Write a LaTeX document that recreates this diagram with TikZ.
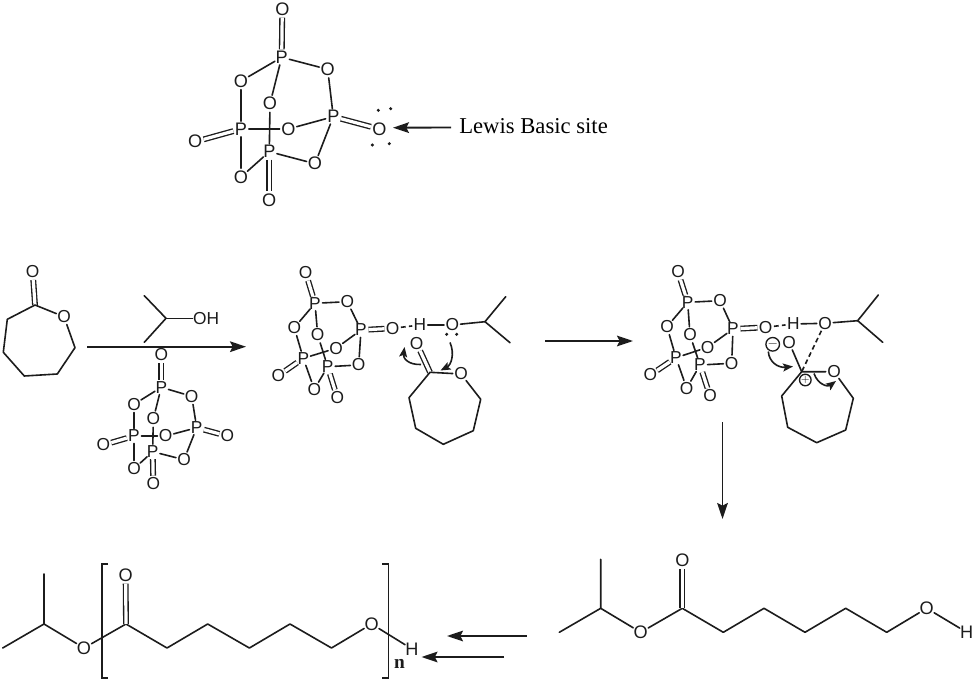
\documentclass[tikz,border=0pt]{standalone}
\usepackage{fontspec}
\setmainfont{Liberation Serif}
\newfontfamily\chemfont{Liberation Sans}
\usetikzlibrary{arrows.meta}
\definecolor{ink}{HTML}{1C1C1C}
\tikzset{
  atom/.style={circle,inner sep=0pt,outer sep=-0.6pt,font=\chemfont\fontsize{13}{13}\selectfont,text=ink},
  bigatom/.style={atom,font=\chemfont\fontsize{13.6}{13.6}\selectfont},
  bond/.style={draw=ink,line width=1.2pt,line join=round,line cap=round},
  dbl/.style={draw=ink,line width=1pt,double=white,double distance=2.4pt},
  dashbond/.style={draw=ink,line width=1.2pt,dash pattern=on 3.6pt off 2.4pt},
  rxn/.style={draw=ink,line width=1.4pt,-{Stealth[length=12pt,width=8pt,inset=2pt]}},
  curly/.style={draw=ink,line width=1.2pt,-{Stealth[length=7.5pt,width=6pt,inset=1.5pt]}},
  lp/.style={circle,fill=ink,inner sep=0pt,minimum size=2.6pt},
  charge/.style={circle,draw=ink,line width=1pt,inner sep=0pt,text=ink},
  bracket/.style={draw=ink,line width=1.4pt,line join=miter},
  label/.style={font=\fontsize{17}{17}\selectfont,text=black,inner sep=0pt}
}
\newcommand{\cagebonds}[1]{%
  \draw[dbl] (#1Pt) -- (#1Ot);
  \draw[dbl] (#1Pr) -- (#1Or);
  \draw[dbl] (#1Pl) -- (#1Ol);
  \draw[dbl] (#1Pb) -- (#1Ob);
  \draw[bond] (#1Pt) -- (#1Oa);
  \draw[bond] (#1Pt) -- (#1Oc);
  \draw[bond] (#1Pt) -- (#1Od);
  \draw[bond] (#1Od) -- (#1Pr);
  \draw[bond] (#1Pr) -- (#1Om);
  \draw[bond] (#1Pr) -- (#1Oe);
  \draw[bond] (#1Oa) -- (#1Pl);
  \draw[bond] (#1Pl) -- (#1Om);
  \draw[bond] (#1Pl) -- (#1Of);
  \draw[bond] (#1Oc) -- (#1Pb);
  \draw[bond] (#1Pb) -- (#1Oe);
  \draw[bond] (#1Pb) -- (#1Of);
}
\begin{document}
\begin{tikzpicture}[x=0.75pt,y=-0.75pt]
\useasboundingbox (0,0) rectangle (975,681);

% ---- top cage
\foreach \n/\t/\x/\y in {Ot/O/282.3/9,Pt/P/281.7/57.3,Oa/O/241/81,Od/O/327.7/69.3,Oc/O/270/103.7,Pr/P/333.3/116.7,Or/O/379.3/129,Pl/P/241/129,Om/O/288.3/129,Ol/O/195.3/141.7,Pb/P/269.3/151.7,Oe/O/315/163.7,Of/O/241/177,Ob/O/269.3/200}
  \node[bigatom] (A\n) at (\x,\y) {\t};
\cagebonds{A}
\foreach \n/\x/\y in {a/378.3/110.3,b/390.7/108.7,c/372.3/145,d/389.3/143.7}
  \node[lp] (lpA\n) at (\x,\y) {};
\node[label,anchor=west] (lewis) at (459,126) {Lewis Basic site};
\draw[rxn] (lewis.west) ++(-8,1.5) coordinate (lewtail) (lewtail) -- (393,127.7) coordinate (lewtip);

% ---- lactone, reagents
\foreach \n/\t/\x/\y in {exo/O/32.7/271.7,ro/O/64/316.7}
  \node[atom] (L\n) at (\x,\y) {\t};
\foreach \n/\x/\y in {c/35/305,a/75/347.7,b/57.3/374,d/24.3/376,e/3.3/352.3,f/7.3/319.3}
  \coordinate (L\n) at (\x,\y);
\draw[dbl] (Lc) -- (Lexo);
\draw[bond] (Lro) -- (Lc) -- (Lf) -- (Le) -- (Ld) -- (Lb) -- (La) -- (Lro);

\coordinate (Ia) at (144.3,295.7);
\coordinate (Ib) at (166,318.3);
\coordinate (Ic) at (144.3,342.3);
\node[atom,anchor=west] (Ioh) at (192.5,318.3) {OH};
\draw[bond] (Ia) -- (Ib) -- (Ic);
\draw[bond] (Ib) -- (Ioh);
\coordinate (R1a) at (87,346.7);
\coordinate (R1b) at (246,346.7);
\draw[rxn] (R1a) -- (R1b);

\foreach \n/\t/\x/\y in {Ot/O/161.3/355,Pt/P/161.3/387.3,Oa/O/134/404.3,Od/O/191.7/396.3,Oc/O/153.3/419,Pr/P/196.7/427.7,Or/O/227.3/436,Pl/P/134/436,Om/O/165.7/436,Ol/O/103.3/445,Pb/P/152.7/451.7,Oe/O/184/459.7,Of/O/134/468.7,Ob/O/153.3/484}
  \node[atom] (B\n) at (\x,\y) {\t};
\cagebonds{B}

% ---- middle complex
\foreach \n/\t/\x/\y in {Ot/O/305.7/272.7,Pt/P/315/303.3,Oa/O/294.3/327.7,Od/O/347.3/301.7,Oc/O/317.7/335,Pr/P/361/330,Or/O/392.7/328.3,Pl/P/303.3/358.3,Om/O/336/348.3,Ol/O/278.3/375.7,Pb/P/327.7/366.7,Oe/O/358.7/365,Of/O/314.3/389.3,Ob/O/337.3/397.7}
  \node[atom] (C\n) at (\x,\y) {\t};
\cagebonds{C}
\node[atom] (CH) at (420,325) {H};
\node[atom] (CO) at (452.3,325) {O};
\coordinate (Cch) at (485,321.7);
\coordinate (Cma) at (505.7,296.7);
\coordinate (Cmb) at (510,342.7);
\draw[dashbond] (COr) -- (CH);
\draw[bond] (CH) -- (CO);
\draw[bond] (CO) -- (Cch) -- (Cma);
\draw[bond] (Cch) -- (Cmb);
\node[lp] (Clpa) at (446.7,334.3) {};
\node[lp] (Clpb) at (456.7,334.3) {};
\node[atom] (Rexo) at (416.7,343.3) {O};
\node[atom] (Rro) at (461,374) {O};
\coordinate (Rc) at (430,372.3);
\coordinate (Ra) at (480.7,399.3);
\coordinate (Rb) at (473.3,430.7);
\coordinate (Rd) at (443.3,444.3);
\coordinate (Re) at (415.7,428.3);
\coordinate (Rf) at (409,397.7);
\draw[dbl] (Rc) -- (Rexo);
\draw[bond] (Rro) -- (Rc) -- (Rf) -- (Re) -- (Rd) -- (Rb) -- (Ra) -- (Rro);
\coordinate (Cca) at (421,364.5);
\coordinate (Ccb) at (404.5,347);
\draw[curly] (Cca) .. controls (408,365) and (403,358) .. (Ccb);
\coordinate (Ccc) at (450,342.5);
\coordinate (Ccd) at (440.5,370.5);
\draw[curly] (Ccc) .. controls (455,354) and (451,365) .. (Ccd);

\coordinate (R2a) at (545,341);
\coordinate (R2b) at (633,341);
\draw[rxn] (R2a) -- (R2b);

% ---- right complex
\foreach \n/\t/\x/\y in {Ot/O/678/272,Pt/P/687.7/302.3,Oa/O/667/326.7,Od/O/720/300.7,Oc/O/690/335,Pr/P/733/329,Or/O/765.7/327.3,Pl/P/676/357.7,Om/O/707.7/347.3,Ol/O/650.3/375,Pb/P/700/365,Oe/O/731.7/363.3,Of/O/686.7/388.3,Ob/O/710/396}
  \node[atom] (D\n) at (\x,\y) {\t};
\cagebonds{D}
\node[atom] (DH) at (793.3,324) {H};
\node[atom] (DO) at (825,323.3) {O};
\coordinate (Dch) at (857.7,320.7);
\coordinate (Dma) at (878.3,295);
\coordinate (Dmb) at (882.7,342.3);
\draw[dashbond] (DOr) -- (DH);
\draw[bond] (DH) -- (DO);
\draw[bond] (DO) -- (Dch) -- (Dma);
\draw[bond] (Dch) -- (Dmb);
\node[atom] (Sexo) at (789,342.3) {O};
\node[atom] (Sro) at (834,371.7) {O};
\coordinate (Sc) at (801.7,371.7);
\coordinate (Sa) at (853.3,398.3);
\coordinate (Sb) at (845.7,430);
\coordinate (Sd) at (816.7,442.7);
\coordinate (Se) at (787.7,427.3);
\coordinate (Sf) at (781.7,396);
\draw[bond] (Sexo) -- (Sc);
\draw[bond] (Sro) -- (Sc) -- (Sf) -- (Se) -- (Sd) -- (Sb) -- (Sa) -- (Sro);
\draw[dashbond] (DO) -- (Sc);
\node[charge,minimum size=9.5pt,font=\fontsize{10}{10}\selectfont] (Dminus) at (772.7,344.3) {$\mathbf{-}$};
\node[charge,minimum size=8pt,font=\fontsize{8.5}{8.5}\selectfont] (Dplus) at (805.3,380) {$\mathbf{+}$};
\coordinate (Dca) at (768.3,351.5);
\coordinate (Dcb) at (793,366.5);
\draw[curly] (Dca) .. controls (769,362) and (778,368) .. (Dcb);
\coordinate (Dcc) at (814,373.5);
\coordinate (Dcd) at (836,381);
\draw[curly] (Dcc) .. controls (818,385) and (828,387) .. (Dcd);

\coordinate (R3a) at (722.5,422);
\coordinate (R3b) at (722.5,519);
\draw[rxn] (R3a) -- (R3b);

% ---- bottom right monomer
\foreach \n/\x/\y in {a/559.3/632.3,b/600.7/608.3,t/600.7/559.3,c/682.3/608.3,d/723.3/632.3,e/764/608.3,f/805/632.3,g/845.7/608.3,h/886.7/632.3}
  \coordinate (M\n) at (\x,\y);
\node[bigatom] (MO) at (640.7,632.3) {O};
\node[bigatom] (Mexo) at (682.3,560) {O};
\node[bigatom] (MOH) at (926.7,608.3) {O};
\node[bigatom] (MH) at (966.7,632.3) {H};
\draw[bond] (Ma) -- (Mb) -- (Mt);
\draw[bond] (Mb) -- (MO);
\draw[bond] (MO) -- (Mc) -- (Md) -- (Me) -- (Mf) -- (Mg) -- (Mh) -- (MOH);
\draw[bond] (MOH) -- (MH);
\draw[dbl] (Mc) -- (Mexo);

% ---- polymer
\foreach \n/\x/\y in {a/2.7/648,b/44/624,t/44/574,c/126/624,d/167/648,e/207.7/624,f/249.4/648,g/290/624,h/331.5/648}
  \coordinate (N\n) at (\x,\y);
\node[bigatom] (NO) at (84,648) {O};
\node[bigatom] (Nexo) at (125.6,575) {O};
\node[bigatom] (NOH) at (371.6,624) {O};
\node[bigatom] (NH) at (412,649) {H};
\draw[bond] (Na) -- (Nb) -- (Nt);
\draw[bond] (Nb) -- (NO);
\draw[bond] (NO) -- (Nc) -- (Nd) -- (Ne) -- (Nf) -- (Ng) -- (Nh) -- (NOH);
\draw[bond] (NOH) -- (NH);
\draw[dbl] (Nc) -- (Nexo);
\coordinate (BLa) at (108,564);
\coordinate (BLb) at (102,564);
\coordinate (BLc) at (102,678);
\coordinate (BLd) at (108,678);
\draw[bracket] (BLa) -- (BLb) -- (BLc) -- (BLd);
\coordinate (BRa) at (382,564);
\coordinate (BRb) at (388.5,564);
\coordinate (BRc) at (388.5,678);
\coordinate (BRd) at (382,678);
\draw[bracket] (BRa) -- (BRb) -- (BRc) -- (BRd);
\node[font=\bfseries\fontsize{14.5}{14.5}\selectfont,text=ink,inner sep=0pt] (Nn) at (399.4,664) {n};
\coordinate (R4a) at (526.5,636);
\coordinate (R4b) at (447,636);
\draw[rxn] (R4a) -- (R4b);
\coordinate (R5a) at (504,657);
\coordinate (R5b) at (421.5,657);
\draw[rxn] (R5a) -- (R5b);
\end{tikzpicture}
\end{document}
